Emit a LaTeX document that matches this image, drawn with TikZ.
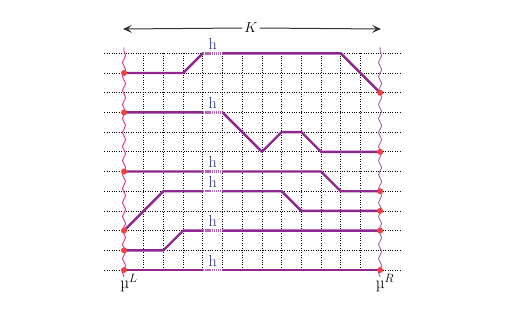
\documentclass[tikz,border=0pt]{standalone}
\usepackage{fontspec}
\usetikzlibrary{arrows.meta,decorations.pathmorphing}
\definecolor{pathpurple}{HTML}{8E2790}
\definecolor{hatchpurple}{HTML}{B466B4}
\definecolor{dotred}{HTML}{F0413C}
\definecolor{hblue}{HTML}{26337F}
\definecolor{wavyleft}{HTML}{E6338C}
\definecolor{wavyright}{HTML}{A95FAA}
\definecolor{arrowgray}{HTML}{333333}
\tikzset{
  gridline/.style={black, line width=0.75pt, dash pattern=on 0.9pt off 1.5pt},
  pathline/.style={pathpurple, line width=2.4pt, line join=round},
  hatchwhite/.style={white, line width=2.6pt},
  hatchline/.style={hatchpurple, line width=2.4pt, dash pattern=on 1.3pt off 0.8pt},
  reddot/.style={circle, fill=dotred, inner sep=0pt, minimum size=6pt},
  hlabel/.style={text=hblue, font=\fontsize{16}{16}\selectfont, anchor=base, inner sep=0pt},
  wavy/.style={line width=0.9pt, decorate, decoration={snake, segment length=14pt, amplitude=1.6pt}},
  mulabel/.style={font=\fontsize{17}{17}\selectfont, inner sep=0pt, anchor=base},
  kArrow/.style={arrowgray, line width=1pt, -{Stealth[length=9pt,width=8pt,inset=4pt]}}
}
\begin{document}
\begin{tikzpicture}[x=1pt,y=-1pt]
\useasboundingbox (0,0) rectangle (524,316);
% top arrow with K
\node[font=\fontsize{15}{15}\selectfont, inner sep=2pt] (K) at (251,28) {$K$};
\coordinate (KL) at (123,29);
\coordinate (KR) at (381,29);
\draw[kArrow] (K.west) -- (KL);
\draw[kArrow] (K.east) -- (KR);
\begin{scope}[shift={(124pt,-270pt)}, x=19.7pt, y=19.7pt]
  % grid
  \foreach \j in {0,...,11} \draw[gridline] (-1,\j) -- (14,\j);
  \foreach \i in {1,...,12} \draw[gridline] (\i,0) -- (\i,11);
  % wavy boundaries
  \draw[wavy, wavyleft] (0,-0.35) -- (0,11.3);
  \draw[wavy, wavyright] (13,-0.35) -- (13,11.3);
  % paths
  \draw[pathline] (0,10) -- (3,10) -- (4,11) -- (11,11) -- (13,9);
  \draw[pathline] (0,8) -- (5,8) -- (7,6) -- (8,7) -- (9,7) -- (10,6) -- (13,6);
  \draw[pathline] (0,5) -- (10,5) -- (11,4) -- (13,4);
  \draw[pathline] (0,2) -- (2,4) -- (8,4) -- (9,3) -- (13,3);
  \draw[pathline] (0,1) -- (2,1) -- (3,2) -- (13,2);
  \draw[pathline] (0,0) -- (13,0);
  % hatched h segments and labels
  \foreach \j [count=\k] in {11,8,5,4,2,0} {
    \draw[hatchwhite] (4.02,\j) -- (4.98,\j);
    \draw[hatchline] (4.02,\j) -- (4.98,\j);
    \node[hlabel] (h\k) at (4.5,\j+0.2) {h};
  }
  % red dots
  \foreach \j in {10,8,5,2,1,0} \node[reddot] (L\j) at (0,\j) {};
  \foreach \j in {9,6,4,3,2,0} \node[reddot] (R\j) at (13,\j) {};
  % mu labels
  \node[mulabel] (muL) at (0.25,-0.95) {µ$^{L}$};
  \node[mulabel] (muR) at (13.25,-0.95) {µ$^{R}$};
\end{scope}
\end{tikzpicture}
\end{document}
